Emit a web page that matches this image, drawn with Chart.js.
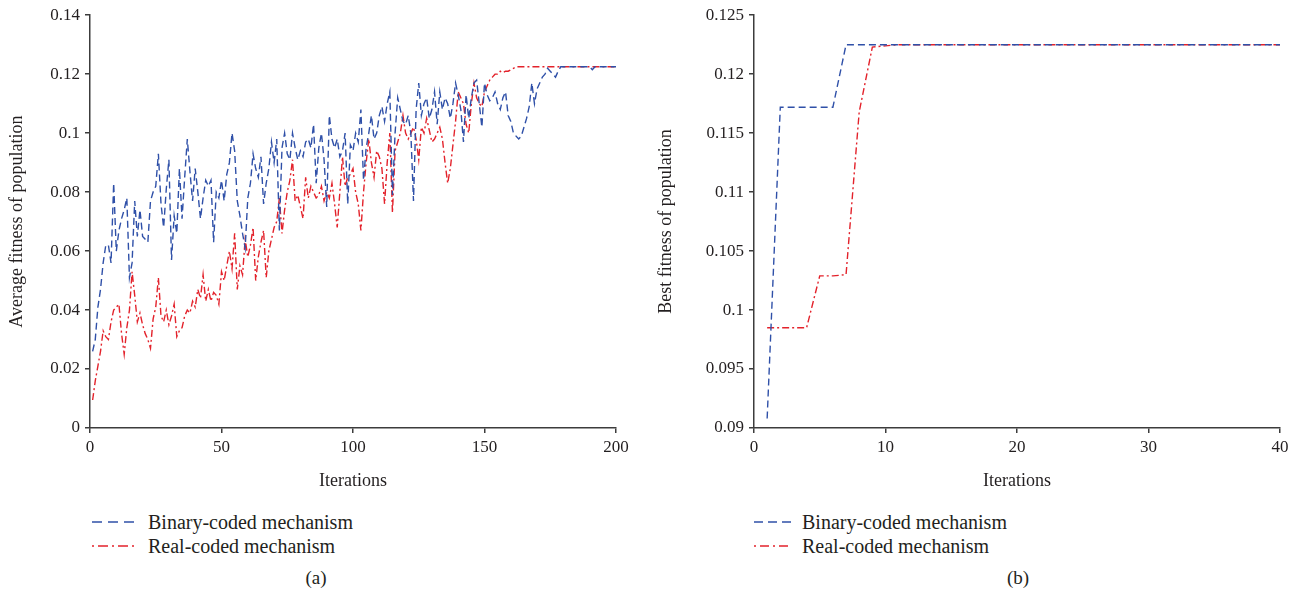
<!DOCTYPE html>
<html>
<head>
<meta charset="utf-8">
<script src="https://cdn.jsdelivr.net/npm/chart.js@4/dist/chart.umd.min.js"></script>
<style>
  body { margin: 0; background: #fff; width: 1298px; height: 601px; overflow: hidden; position: relative;
         font-family: "Liberation Serif", "DejaVu Serif", serif; color: #231f20; }
  .panel { position: absolute; top: 0; }
  .legend { position: absolute; top: 510px; font-size: 20px; }
  .legend div { display: flex; align-items: center; height: 24px; white-space: nowrap; }
  .legend svg { margin-right: 10px; }
  .cap { position: absolute; top: 567px; font-size: 19px; width: 40px; text-align: center; }
</style>
</head>
<body>
<canvas id="chartA" class="panel" style="left:0" width="649" height="500"></canvas>
<canvas id="chartB" class="panel" style="left:649px" width="649" height="500"></canvas>

<div class="legend" style="left:92px">
  <div><svg width="46" height="4"><line x1="0" y1="2" x2="46" y2="2" stroke="#2f50a8" stroke-width="1.4" stroke-dasharray="10,6"/></svg>Binary-coded mechanism</div>
  <div><svg width="46" height="4"><line x1="0" y1="2" x2="46" y2="2" stroke="#e3222b" stroke-width="1.4" stroke-dasharray="2,4,10,4"/></svg>Real-coded mechanism</div>
</div>
<div class="legend" style="left:754px">
  <div><svg width="38" height="4"><line x1="0" y1="2" x2="38" y2="2" stroke="#2f50a8" stroke-width="1.4" stroke-dasharray="9,5"/></svg>Binary-coded mechanism</div>
  <div><svg width="38" height="4"><line x1="0" y1="2" x2="38" y2="2" stroke="#e3222b" stroke-width="1.4" stroke-dasharray="2,4,9,4"/></svg>Real-coded mechanism</div>
</div>
<div class="cap" style="left:296px">(a)</div>
<div class="cap" style="left:998px">(b)</div>

<script>
// (a) average fitness, iterations 1..200
const avgBinary = [
  0.026, 0.030, 0.041, 0.047, 0.056, 0.062, 0.062, 0.056, 0.083, 0.060,
  0.067, 0.071, 0.074, 0.078, 0.051, 0.056, 0.077, 0.065, 0.074, 0.065,
  0.064, 0.063, 0.077, 0.080, 0.082, 0.093, 0.076, 0.068, 0.081, 0.091,
  0.057, 0.072, 0.066, 0.088, 0.071, 0.085, 0.098, 0.087, 0.077, 0.088,
  0.080, 0.071, 0.078, 0.084, 0.082, 0.084, 0.063, 0.080, 0.078, 0.084,
  0.077, 0.086, 0.090, 0.100, 0.094, 0.077, 0.072, 0.066, 0.061, 0.078,
  0.083, 0.093, 0.088, 0.085, 0.092, 0.076, 0.083, 0.088, 0.097, 0.090,
  0.098, 0.067, 0.095, 0.100, 0.093, 0.091, 0.100, 0.095, 0.091, 0.094,
  0.092, 0.097, 0.098, 0.095, 0.103, 0.083, 0.095, 0.100, 0.091, 0.075,
  0.106, 0.098, 0.095, 0.098, 0.092, 0.094, 0.100, 0.076, 0.096, 0.094,
  0.100, 0.097, 0.108, 0.084, 0.095, 0.100, 0.106, 0.098, 0.100, 0.106,
  0.109, 0.104, 0.110, 0.114, 0.079, 0.100, 0.112, 0.108, 0.104, 0.103,
  0.106, 0.100, 0.077, 0.108, 0.117, 0.106, 0.110, 0.112, 0.105, 0.108,
  0.114, 0.103, 0.114, 0.108, 0.112, 0.110, 0.105, 0.110, 0.117, 0.113,
  0.108, 0.097, 0.113, 0.105, 0.112, 0.117, 0.118, 0.110, 0.102, 0.117,
  0.113, 0.111, 0.112, 0.114, 0.110, 0.108, 0.112, 0.114, 0.106, 0.104,
  0.100, 0.099, 0.098, 0.099, 0.102, 0.105, 0.109, 0.117, 0.110, 0.115,
  0.117, 0.119, 0.120, 0.122, 0.121, 0.120, 0.119, 0.121, 0.1225, 0.1225,
  0.1225, 0.1225, 0.1225, 0.1225, 0.1225, 0.1225, 0.1225, 0.1225, 0.1225, 0.1225,
  0.1215, 0.1225, 0.1225, 0.1225, 0.1225, 0.1225, 0.1225, 0.1225, 0.1225, 0.1225
];
const avgReal = [
  0.0095, 0.016, 0.021, 0.026, 0.033, 0.031, 0.030, 0.036, 0.040, 0.041,
  0.042, 0.032, 0.025, 0.034, 0.040, 0.053, 0.045, 0.036, 0.039, 0.035,
  0.032, 0.030, 0.027, 0.037, 0.041, 0.051, 0.038, 0.036, 0.040, 0.035,
  0.038, 0.042, 0.031, 0.033, 0.034, 0.038, 0.040, 0.039, 0.043, 0.041,
  0.047, 0.044, 0.052, 0.043, 0.047, 0.043, 0.046, 0.045, 0.042, 0.053,
  0.050, 0.055, 0.060, 0.054, 0.066, 0.047, 0.055, 0.052, 0.064, 0.058,
  0.062, 0.068, 0.050, 0.058, 0.063, 0.067, 0.051, 0.060, 0.064, 0.068,
  0.070, 0.078, 0.066, 0.074, 0.080, 0.084, 0.091, 0.077, 0.079, 0.075,
  0.071, 0.085, 0.078, 0.082, 0.080, 0.078, 0.079, 0.082, 0.077, 0.080,
  0.078, 0.083, 0.076, 0.068, 0.080, 0.092, 0.082, 0.085, 0.086, 0.088,
  0.080, 0.076, 0.067, 0.080, 0.090, 0.098, 0.090, 0.085, 0.094, 0.092,
  0.088, 0.076, 0.090, 0.100, 0.073, 0.094, 0.097, 0.100, 0.106, 0.100,
  0.098, 0.100, 0.102, 0.098, 0.091, 0.102, 0.100, 0.105, 0.101, 0.097,
  0.098, 0.100, 0.102, 0.098, 0.090, 0.083, 0.088, 0.096, 0.104, 0.114,
  0.112, 0.110, 0.103, 0.100, 0.110, 0.117, 0.112, 0.110, 0.109, 0.114,
  0.116, 0.118, 0.119, 0.120, 0.120, 0.121, 0.1205, 0.121, 0.121, 0.1215,
  0.122, 0.1225, 0.1225, 0.1225, 0.1225, 0.1225, 0.1225, 0.1225, 0.1225, 0.1225,
  0.1225, 0.1225, 0.1225, 0.1225, 0.1225, 0.1225, 0.1225, 0.1225, 0.1225, 0.1225,
  0.1225, 0.1225, 0.1225, 0.1225, 0.1225, 0.1225, 0.1225, 0.1225, 0.1225, 0.1225,
  0.1225, 0.1225, 0.1225, 0.1225, 0.1225, 0.1225, 0.1225, 0.1225, 0.1225, 0.1225
];

// (b) best fitness, iterations 1..40
const bestBinary = [
  0.0908, 0.1172, 0.1172, 0.1172, 0.1172, 0.1172, 0.1225, 0.1225, 0.1225, 0.1225,
  0.1225, 0.1225, 0.1225, 0.1225, 0.1225, 0.1225, 0.1225, 0.1225, 0.1225, 0.1225,
  0.1225, 0.1225, 0.1225, 0.1225, 0.1225, 0.1225, 0.1225, 0.1225, 0.1225, 0.1225,
  0.1225, 0.1225, 0.1225, 0.1225, 0.1225, 0.1225, 0.1225, 0.1225, 0.1225, 0.1225
];
const bestReal = [
  0.0985, 0.0985, 0.0985, 0.0985, 0.1029, 0.1029, 0.1030, 0.1168, 0.1223, 0.1224,
  0.1225, 0.1225, 0.1225, 0.1225, 0.1225, 0.1225, 0.1225, 0.1225, 0.1225, 0.1225,
  0.1225, 0.1225, 0.1225, 0.1225, 0.1225, 0.1225, 0.1225, 0.1225, 0.1225, 0.1225,
  0.1225, 0.1225, 0.1225, 0.1225, 0.1225, 0.1225, 0.1225, 0.1225, 0.1225, 0.1225
];

const BLUE = '#2f50a8';
const RED = '#e3222b';
const AXIS = '#3c3c3c';
const TEXT = '#231f20';
const FONT = '"Liberation Serif", "DejaVu Serif", serif';

const toPoints = (vals) => vals.map((v, i) => ({x: i + 1, y: v}));
const fmt = (v) => String(+v.toFixed(4));

function lineChart (id, binary, real, opts) {
  const axisStyle = {
    border: {display: true, color: AXIS, width: 1.5},
    grid: {display: true, drawOnChartArea: false, drawTicks: true, tickLength: 5, color: AXIS, lineWidth: 1.5}
  };
  return new Chart(document.getElementById(id), {
    type: 'line',
    data: {
      datasets: [
        {label: 'Binary-coded mechanism', data: toPoints(binary), borderColor: BLUE,
          borderWidth: 1.4, borderDash: [7, 4], pointRadius: 0, tension: 0},
        {label: 'Real-coded mechanism', data: toPoints(real), borderColor: RED,
          borderWidth: 1.4, borderDash: [7, 3, 2, 3], pointRadius: 0, tension: 0}
      ]
    },
    options: {
      responsive: false,
      animation: false,
      layout: {padding: {top: 14, right: opts.padRight, left: 0, bottom: 0}},
      plugins: {legend: {display: false}, tooltip: {enabled: false}},
      scales: {
        x: {
          type: 'linear', min: 0, max: opts.xMax,
          ...axisStyle,
          ticks: {stepSize: opts.xStep, color: TEXT, padding: 4, font: {family: FONT, size: 17}},
          title: {display: true, text: 'Iterations', color: TEXT, padding: {top: 0, bottom: 8}, font: {family: FONT, size: 18}},
          afterFit: (s) => { s.height = 72; }
        },
        y: {
          min: opts.yMin, max: opts.yMax,
          ...axisStyle,
          ticks: {stepSize: opts.yStep, color: TEXT, padding: 5, font: {family: FONT, size: 17}, callback: fmt},
          title: {display: true, text: opts.yTitle, color: TEXT, padding: {top: 6, bottom: 0}, font: {family: FONT, size: 18}},
          afterFit: (s) => { s.width = opts.yWidth; }
        }
      }
    }
  });
}

lineChart('chartA', avgBinary, avgReal, {
  xMax: 200, xStep: 50, yMin: 0, yMax: 0.14, yStep: 0.02,
  yTitle: 'Average fitness of population', yWidth: 90, padRight: 33
});
lineChart('chartB', bestBinary, bestReal, {
  xMax: 40, xStep: 10, yMin: 0.09, yMax: 0.125, yStep: 0.005,
  yTitle: 'Best fitness of population', yWidth: 105, padRight: 18
});
</script>
</body>
</html>
